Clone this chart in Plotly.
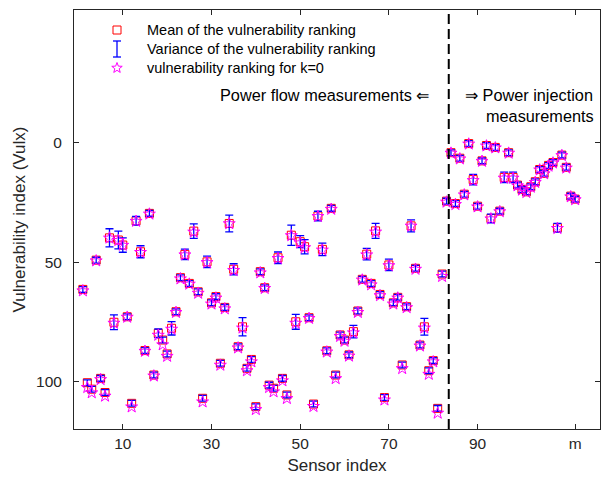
import math
import plotly.graph_objects as go

# ---------------- data ----------------
sensor_index = list(range(1, 113))
n_flow = 83  # number of power-flow measurements

mean_rank = [
    61.4, 100.3, 103.0, 49.2, 98.5, 104.4, 39.9, 75.1, 40.8, 42.9,
    72.8, 108.9, 32.8, 45.7, 86.9, 29.7, 97.1, 79.7, 82.5, 88.3,
    77.6, 70.7, 56.5, 46.8, 58.9, 37.1, 62.4, 106.8, 49.9, 67.0,
    64.4, 92.2, 68.9, 33.9, 53.0, 85.3, 77.0, 94.3, 90.6, 110.3,
    54.0, 60.7, 101.3, 102.6, 48.2, 98.5, 105.4, 38.8, 74.9, 41.5,
    43.6, 73.2, 109.2, 30.8, 44.7, 87.0, 27.6, 97.1, 80.4, 82.5,
    88.7, 79.0, 70.4, 57.2, 46.7, 58.9, 37.0, 63.5, 106.5, 51.2,
    67.0, 64.7, 92.9, 68.6, 34.9, 52.6, 84.6, 77.0, 95.3, 91.1,
    111.0, 55.0, 24.6, 4.4, 25.6, 6.7, 21.7, 0.6, 15.6, 26.7,
    7.8, 1.4, 31.8, 2.2, 28.75, 14.7, 4.4, 14.7, 17.9, 19.7,
    20.7, 18.6, 16.5, 11.4, 13.0, 9.7, 8.5, 35.7, 5.4, 10.5,
    22.5, 23.75,
]

var_rank = [
    1.2, 1.2, 1.2, 1.2, 1.2, 1.2, 3.8, 3.1, 3.7, 3.0,
    1.2, 1.2, 1.8, 2.5, 1.2, 1.2, 1.2, 1.8, 1.2, 1.2,
    2.8, 1.2, 1.2, 2.2, 1.2, 3.0, 1.2, 1.2, 2.4, 1.2,
    1.2, 1.2, 1.2, 3.5, 2.3, 1.2, 3.8, 1.2, 1.2, 1.2,
    1.2, 1.2, 1.2, 1.2, 2.4, 1.2, 1.2, 4.2, 3.1, 2.5,
    3.0, 1.2, 1.2, 2.0, 2.6, 1.2, 1.2, 1.2, 1.2, 1.2,
    1.2, 2.6, 1.2, 1.2, 2.4, 1.2, 3.1, 1.2, 1.2, 2.4,
    1.2, 1.2, 1.2, 1.2, 2.5, 1.2, 1.2, 3.5, 1.2, 1.2,
    1.2, 1.2, 1.2, 1.2, 1.2, 1.2, 1.2, 1.2, 2.2, 1.2,
    1.2, 1.2, 1.8, 1.2, 1.2, 2.2, 1.2, 2.2, 1.2, 1.2,
    1.2, 1.2, 1.2, 1.2, 1.2, 1.2, 1.2, 1.8, 1.2, 1.2,
    1.2, 1.2,
]

rank_k0 = [
    62.0, 102.3, 104.5, 49.5, 99.0, 105.9, 40.0, 75.5, 41.0, 43.0,
    73.0, 110.4, 33.0, 46.0, 87.2, 30.0, 97.5, 80.5, 84.5, 89.3,
    78.0, 71.0, 57.0, 47.0, 59.2, 37.5, 63.0, 108.3, 50.2, 67.5,
    65.0, 93.0, 69.5, 34.0, 53.5, 85.8, 77.5, 95.3, 91.6, 111.5,
    54.5, 61.0, 102.3, 104.1, 48.5, 99.5, 106.9, 39.0, 75.5, 42.0,
    44.0, 73.5, 110.2, 31.0, 45.0, 87.5, 28.0, 98.6, 81.0, 83.0,
    89.2, 79.5, 71.0, 57.5, 47.0, 59.5, 37.5, 64.0, 107.5, 51.5,
    67.5, 65.0, 94.4, 69.0, 35.0, 53.0, 85.0, 77.5, 96.8, 91.6,
    113.0, 56.0, 25.0, 4.6, 26.0, 7.0, 22.0, 0.8, 16.0, 27.0,
    8.0, 1.6, 32.0, 2.4, 29.0, 15.0, 4.6, 15.0, 18.2, 20.0,
    21.0, 18.8, 16.8, 11.6, 13.2, 10.0, 8.7, 36.0, 5.6, 10.8,
    22.8, 24.0,
]

x_tickvals = [10, 30, 50, 70, 90, 112]
x_ticktext = ["10", "30", "50", "70", "90", "m"]
y_tickvals = [0, 50, 100]

legend_labels = [
    "Mean of the vulnerability ranking",
    "Variance of the vulnerability ranking",
    "vulnerability ranking for k=0",
]

# ---------------- figure ----------------
FONT = "Liberation Sans, Arial, sans-serif"
AXC = "#262626"
RED, BLUE, MAG = "#ff0000", "#0000ff", "#ff00ff"

fig = go.Figure()

fig.add_trace(go.Scatter(
    x=sensor_index, y=mean_rank, mode="markers",
    marker=dict(symbol="square-open", size=8, color=RED, line=dict(width=1)),
    showlegend=False, hoverinfo="skip"))

fig.add_trace(go.Scatter(
    x=sensor_index, y=mean_rank, mode="markers",
    marker=dict(size=1, color="rgba(0,0,0,0)"),
    error_y=dict(type="data", array=var_rank, visible=True, color=BLUE,
                 thickness=1.3, width=4),
    showlegend=False, hoverinfo="skip"))

fig.add_trace(go.Scatter(
    x=sensor_index, y=rank_k0, mode="markers",
    marker=dict(symbol="star-open", size=9, color=MAG, line=dict(width=1)),
    showlegend=False, hoverinfo="skip"))

# ---- hand-built legend (paper coordinates derived from pixel layout) ----
L, T, W, H = 74.0, 10.0, 526.0, 419.0  # plot area in px
def px2x(px):
    return (px - L) / W
def py2y(py):
    return 1 - (py - T) / H

sym_px = 117
row_py = [30, 49, 68]
shapes = []
# square
shapes.append(dict(type="rect", xref="paper", yref="paper",
                   x0=px2x(sym_px - 4), x1=px2x(sym_px + 4),
                   y0=py2y(row_py[0] + 4), y1=py2y(row_py[0] - 4),
                   line=dict(color=RED, width=1)))
# error bar "I"
shapes.append(dict(type="line", xref="paper", yref="paper",
                   x0=px2x(sym_px), x1=px2x(sym_px),
                   y0=py2y(row_py[1] + 8), y1=py2y(row_py[1] - 8),
                   line=dict(color=BLUE, width=1.3)))
for dy in (-8, 8):
    shapes.append(dict(type="line", xref="paper", yref="paper",
                       x0=px2x(sym_px - 4), x1=px2x(sym_px + 4),
                       y0=py2y(row_py[1] + dy), y1=py2y(row_py[1] + dy),
                       line=dict(color=BLUE, width=1.3)))
# star
pts = []
for k in range(10):
    r = 5.5 if k % 2 == 0 else 2.3
    ang = -math.pi / 2 + k * math.pi / 5
    pts.append((px2x(sym_px + r * math.cos(ang)), py2y(row_py[2] + r * math.sin(ang))))
path = "M " + " L ".join(f"{a:.5f},{b:.5f}" for a, b in pts) + " Z"
shapes.append(dict(type="path", xref="paper", yref="paper", path=path,
                   line=dict(color=MAG, width=1)))

# dashed separator
shapes.append(dict(type="line", xref="x", yref="paper", x0=n_flow + 0.5, x1=n_flow + 0.5,
                   y0=0, y1=1, line=dict(color="#000000", width=2, dash="10px,5px")))

annotations = []
for lab, py in zip(legend_labels, row_py):
    annotations.append(dict(
        x=px2x(145), y=py2y(py), xref="paper", yref="paper", text=lab, showarrow=False,
        xanchor="left", yanchor="middle", font=dict(family=FONT, size=14.5, color="#000")))

annotations.append(dict(
    x=px2x(431), y=py2y(95), xref="paper", yref="paper", text="Power flow measurements \u21d0",
    showarrow=False, xanchor="right", yanchor="middle",
    font=dict(family=FONT, size=16.3, color="#000")))
annotations.append(dict(
    x=px2x(463), y=py2y(95), xref="paper", yref="paper", text="\u21d2 Power injection",
    showarrow=False, xanchor="left", yanchor="middle",
    font=dict(family=FONT, size=16.3, color="#000")))
annotations.append(dict(
    x=px2x(484), y=py2y(116), xref="paper", yref="paper", text="measurements",
    showarrow=False, xanchor="left", yanchor="middle",
    font=dict(family=FONT, size=16.3, color="#000")))

fig.update_layout(
    width=609, height=477,
    margin=dict(l=74, r=9, t=10, b=48),
    paper_bgcolor="white", plot_bgcolor="white",
    font=dict(family=FONT, size=15.5, color=AXC),
    showlegend=False,
    xaxis=dict(
        range=[-1.0, 117.6], tickvals=x_tickvals, ticktext=x_ticktext,
        ticks="inside", ticklen=5, tickcolor=AXC, showline=True, linecolor=AXC,
        linewidth=1, mirror="ticks", showgrid=False, zeroline=False, automargin=False,
        tickfont=dict(size=15.5, color=AXC),
        title=dict(text="Sensor index", font=dict(size=17, color=AXC), standoff=8)),
    yaxis=dict(
        range=[119.6, -55.1], tickvals=y_tickvals,
        ticks="inside", ticklen=5, tickcolor=AXC, showline=True, linecolor=AXC,
        linewidth=1, mirror="ticks", showgrid=False, zeroline=False, automargin=False,
        ticklabelstandoff=8,
        tickfont=dict(size=15.5, color=AXC),
        title=dict(text="Vulnerability index (Vulx)", font=dict(size=17, color=AXC), standoff=6)),
    shapes=shapes,
    annotations=annotations,
)

fig.write_html("out.html", config={"displayModeBar": False},
               post_script="document.body.style.margin='0px';")
